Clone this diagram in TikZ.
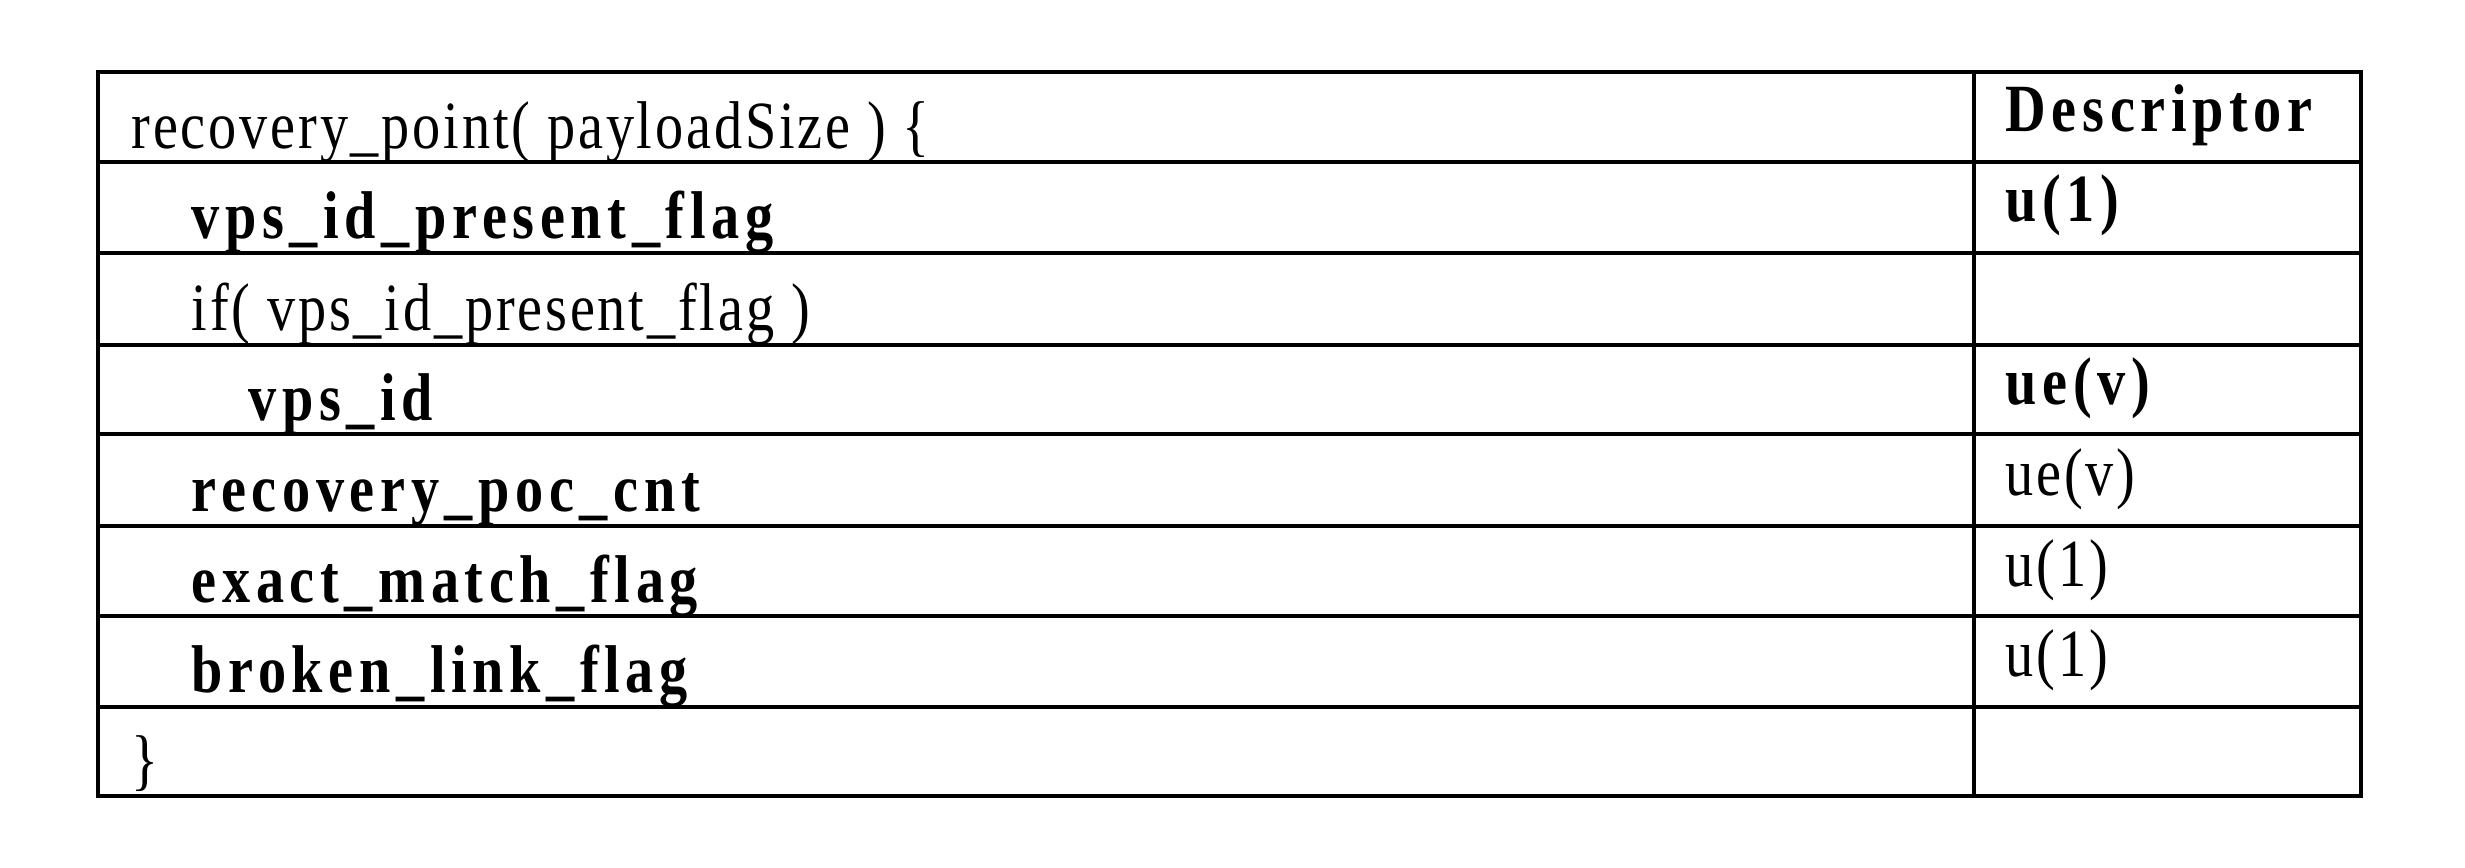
\documentclass[tikz,border=0pt]{standalone}
\usepackage{fontspec}
\setmainfont{Liberation Serif}
\newfontfamily\regf{Liberation Serif}[LetterSpace=5]
\newfontfamily\boldf{Liberation Serif Bold}[LetterSpace=10]
\begin{document}
\begin{tikzpicture}[x=0.01cm,y=-0.01cm,
  txt/.style={anchor=base west,inner sep=0pt,yscale=1.2,transform shape,font=\fontsize{16}{18}\selectfont\regf},
  btxt/.style={txt,font=\fontsize{16}{18}\selectfont\boldf},
  rule/.style={line width=1.4pt}]
\useasboundingbox (0,0) rectangle (2465,868);
\draw[rule] (98,72) rectangle (2361,796);
\draw[rule] (1974,72) -- (1974,796);
\foreach \y in {162,253,345,434,526,616,707} \draw[rule] (98,\y) -- (2361,\y);
\node[txt] (r0) at (131,149) {recovery\_point( payloadSize ) \{};
\node[btxt] (d0) at (2005,132) {Descriptor};
\node[btxt] (r1) at (191,239) {vps\_id\_present\_flag};
\node[btxt] (d1) at (2005,222) {u(1)};
\node[txt] (r2) at (191,331) {if( vps\_id\_present\_flag )};
\node[btxt] (r3) at (248,421) {vps\_id};
\node[btxt] (d3) at (2005,405) {ue(v)};
\node[txt] (d4) at (2005,496) {ue(v)};
\node[btxt] (r4) at (191,512) {recovery\_poc\_cnt};
\node[btxt] (r5) at (191,603) {exact\_match\_flag};
\node[txt] (d5) at (2005,587) {u(1)};
\node[btxt] (r6) at (191,693) {broken\_link\_flag};
\node[txt] (d6) at (2005,677) {u(1)};
\node[txt] (r7) at (131,783) {\}};
\end{tikzpicture}
\end{document}
